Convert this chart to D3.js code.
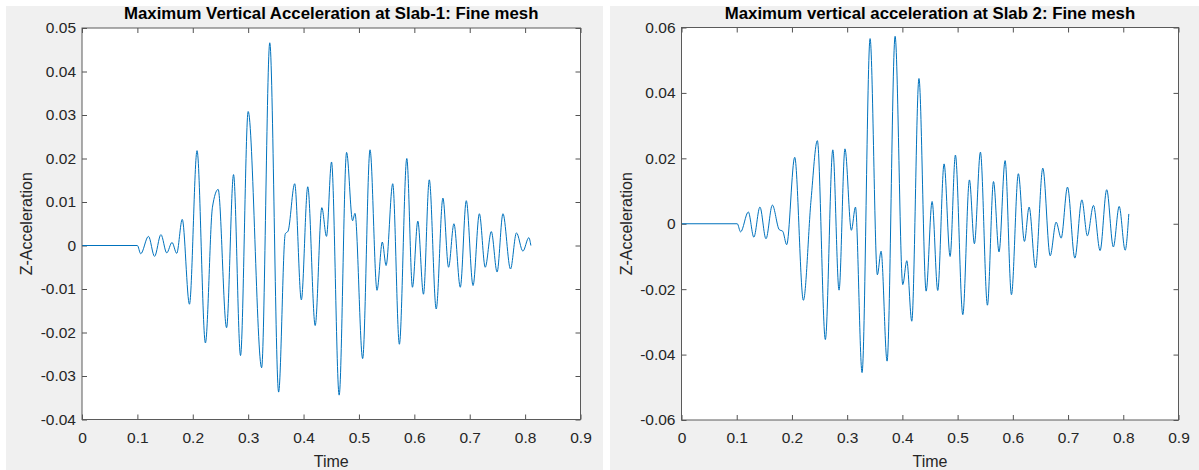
<!DOCTYPE html>
<html>
<head>
<meta charset="utf-8">
<script src="https://cdn.jsdelivr.net/npm/d3@7"></script>
<style>
  body { margin: 0; background: #fff; }
  svg { display: block; font-family: Arial, "Liberation Sans", Helvetica, sans-serif; }
</style>
</head>
<body>
<script>
const w = 1199;
const h = 470;

// time ticks shared by both plots
const timeTicks = [0, 0.1, 0.2, 0.3, 0.4, 0.5, 0.6, 0.7, 0.8, 0.9];

// slab 1 (peaks and troughs)
const slab1Title = "Maximum Vertical Acceleration at Slab-1: Fine mesh";
const slab1Ticks = [-0.04, -0.03, -0.02, -0.01, 0, 0.01, 0.02, 0.03, 0.04, 0.05];
const slab1Time = [0, 0.1, 0.106, 0.12, 0.131, 0.1425, 0.153, 0.1625, 0.171, 0.181,
  0.194, 0.2077, 0.2228, 0.2355, 0.2458, 0.261, 0.2736, 0.2862, 0.3, 0.3243,
  0.339, 0.355, 0.367, 0.372, 0.384, 0.396, 0.4076, 0.421, 0.433, 0.4414,
  0.4505, 0.4643, 0.4777, 0.4885, 0.4928, 0.5067, 0.52, 0.5326, 0.5422, 0.549,
  0.561, 0.573, 0.5864, 0.5966, 0.6063, 0.6165, 0.627, 0.6395, 0.6516, 0.6618,
  0.6715, 0.683, 0.6938, 0.706, 0.7174, 0.728, 0.739, 0.7494, 0.76, 0.7736,
  0.7844, 0.796, 0.8067, 0.8104];
const slab1Acc = [0, 0, -0.0019, 0.0021, -0.0025, 0.0025, -0.0017, 0.0007, -0.0018, 0.006,
  -0.0135, 0.0218, -0.0224, 0.0088, 0.0129, -0.0189, 0.0163, -0.0253, 0.0308, -0.0281,
  0.0466, -0.0337, 0.0027, 0.0033, 0.0142, -0.0125, 0.0135, -0.0184, 0.0087, 0.0021,
  0.0192, -0.0344, 0.0214, 0.0057, 0.0074, -0.026, 0.022, -0.0103, 0.0008, -0.0046,
  0.0142, -0.0227, 0.02, -0.0096, 0.0056, -0.0112, 0.0151, -0.0146, 0.0109, -0.005,
  0.005, -0.0096, 0.0103, -0.0092, 0.0073, -0.005, 0.0032, -0.0061, 0.0073, -0.0054,
  0.0029, -0.0013, 0.0018, 0];

// slab 2
const slab2Title = "Maximum vertical acceleration at Slab 2: Fine mesh";
const slab2Ticks = [-0.06, -0.04, -0.02, 0, 0.02, 0.04, 0.06];
const slab2Time = [0, 0.101, 0.107, 0.121, 0.131, 0.142, 0.153, 0.1645, 0.177, 0.1833,
  0.1905, 0.205, 0.2207, 0.2346, 0.246, 0.2605, 0.274, 0.2853, 0.296, 0.3076,
  0.315, 0.327, 0.3415, 0.3547, 0.3614, 0.3723, 0.3868, 0.4007, 0.408, 0.417,
  0.43, 0.443, 0.4538, 0.464, 0.4755, 0.4864, 0.496, 0.5094, 0.5214, 0.5304,
  0.5413, 0.554, 0.565, 0.575, 0.586, 0.5975, 0.61, 0.621, 0.6295, 0.641,
  0.6543, 0.6676, 0.6784, 0.6875, 0.699, 0.7123, 0.725, 0.735, 0.746, 0.758,
  0.77, 0.782, 0.7926, 0.8034, 0.81];
const slab2Acc = [0, 0, -0.0025, 0.0036, -0.0041, 0.0051, -0.0046, 0.0057, -0.0018, -0.0023,
  -0.0064, 0.0203, -0.0234, 0.0073, 0.0254, -0.0354, 0.0226, -0.0203, 0.0229, -0.002,
  0.0051, -0.0455, 0.0566, -0.0156, -0.0084, -0.042, 0.0573, -0.0186, -0.0113, -0.0298,
  0.0444, -0.0206, 0.0068, -0.0204, 0.0183, -0.01, 0.021, -0.0278, 0.0134, -0.0061,
  0.0219, -0.0249, 0.0129, -0.0086, 0.0193, -0.0217, 0.0153, -0.0054, 0.0051, -0.0135,
  0.017, -0.0098, 0.0005, -0.0044, 0.0112, -0.0105, 0.0073, -0.0037, 0.0056, -0.0082,
  0.0104, -0.0071, 0.0053, -0.0081, 0.003];

const svg = d3
  .select("body")
  .append("svg")
  .attr("width", w)
  .attr("height", h);

const fmt = d => String(+d.toFixed(2));

function drawPanel(opts) {
  const { bx, bw, left, right, top, bottom, title, time, acc, yTicks } = opts;

  // grey figure background
  svg.append("rect")
    .attr("x", bx).attr("y", 6)
    .attr("width", bw).attr("height", h - 6)
    .attr("fill", "#f0f0f0");

  const xScale = d3.scaleLinear().domain([0, 0.9]).range([left, right]);
  const yScale = d3.scaleLinear()
    .domain([yTicks[0], yTicks[yTicks.length - 1]])
    .range([bottom, top]);

  svg.append("rect")
    .attr("x", left).attr("y", top)
    .attr("width", right - left).attr("height", bottom - top)
    .attr("fill", "#fff");

  const styleAxis = g => {
    g.select(".domain").remove();
    g.selectAll(".tick line").attr("stroke", "#262626").attr("stroke-width", 0.8);
    g.selectAll(".tick text").attr("fill", "#262626").style("font-size", "15.5px");
  };

  // bottom / left with labels, top / right ticks only (inward)
  svg.append("g")
    .attr("transform", "translate(0," + bottom + ")")
    .call(d3.axisBottom(xScale).tickValues(timeTicks).tickSize(-5).tickPadding(12).tickFormat(fmt))
    .call(styleAxis);
  svg.append("g")
    .attr("transform", "translate(0," + top + ")")
    .call(d3.axisTop(xScale).tickValues(timeTicks).tickSize(-5).tickFormat(""))
    .call(styleAxis);
  svg.append("g")
    .attr("transform", "translate(" + left + ",0)")
    .call(d3.axisLeft(yScale).tickValues(yTicks).tickSize(-5).tickPadding(6).tickFormat(fmt))
    .call(styleAxis);
  svg.append("g")
    .attr("transform", "translate(" + right + ",0)")
    .call(d3.axisRight(yScale).tickValues(yTicks).tickSize(-5).tickFormat(""))
    .call(styleAxis);

  // acceleration trace
  const line = d3.line()
    .x(i => xScale(time[i]))
    .y(i => yScale(acc[i]))
    .curve(d3.curveMonotoneX);

  svg.append("path")
    .attr("d", line(d3.range(time.length)))
    .attr("fill", "none")
    .attr("stroke", "#0072bd")
    .attr("stroke-width", 1);

  // box
  svg.append("rect")
    .attr("x", left).attr("y", top)
    .attr("width", right - left).attr("height", bottom - top)
    .attr("fill", "none")
    .attr("stroke", "#5a5a5a")
    .attr("stroke-width", 1);

  // title
  svg.append("text")
    .attr("x", (left + right) / 2)
    .attr("y", 18.5)
    .style("text-anchor", "middle")
    .style("font-size", "16.8px")
    .style("font-weight", "bold")
    .attr("fill", "#000")
    .text(title);

  // x label
  svg.append("text")
    .attr("x", (left + right) / 2)
    .attr("y", 467)
    .style("text-anchor", "middle")
    .style("font-size", "16px")
    .attr("fill", "#262626")
    .text("Time");

  // y label
  const cy = (top + bottom) / 2;
  svg.append("text")
    .attr("transform", "translate(" + (left - 50) + "," + cy + ") rotate(-90)")
    .style("text-anchor", "middle")
    .style("font-size", "16px")
    .attr("fill", "#262626")
    .text("Z-Acceleration");
}

drawPanel({
  bx: 6, bw: 597, left: 82, right: 580.5, top: 28, bottom: 419.5,
  title: slab1Title, time: slab1Time, acc: slab1Acc, yTicks: slab1Ticks
});

drawPanel({
  bx: 610, bw: 589, left: 681.5, right: 1178.5, top: 27.5, bottom: 420,
  title: slab2Title, time: slab2Time, acc: slab2Acc, yTicks: slab2Ticks
});
</script>
</body>
</html>
